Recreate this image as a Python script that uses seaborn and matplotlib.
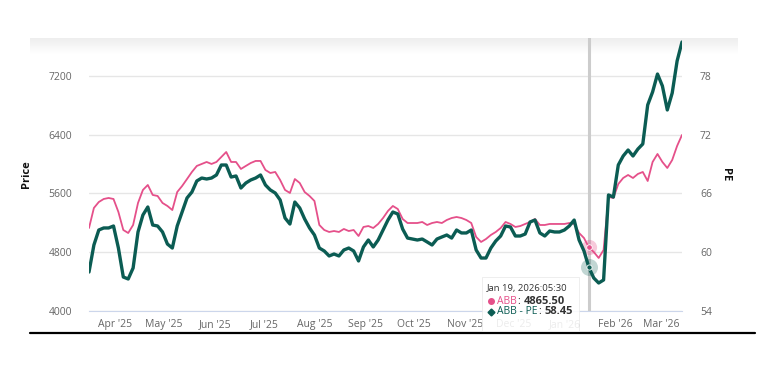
import numpy as np
import pandas as pd
import matplotlib
matplotlib.use("Agg")
import matplotlib.pyplot as plt
import matplotlib.dates as mdates
from matplotlib.lines import Line2D
from matplotlib.patches import Rectangle
import seaborn as sns

dates = pd.date_range("2025-03-16", periods=122, freq="3D")

price = [5130, 5403, 5484, 5525, 5539, 5525, 5348, 5103, 5062, 5171,
         5471, 5648, 5716, 5580, 5566, 5471, 5430, 5375, 5620, 5702,
         5797, 5893, 5975, 6002, 6029, 6002, 6029, 6097, 6165, 6029,
         6029, 5934, 5975, 6015, 6043, 6043, 5920, 5879, 5893, 5784,
         5648, 5607, 5797, 5743, 5620, 5566, 5498, 5171, 5103, 5076,
         5089, 5076, 5117, 5089, 5103, 5021, 5144, 5157, 5130, 5185,
         5266, 5362, 5430, 5389, 5253, 5198, 5198, 5198, 5212, 5171,
         5198, 5212, 5198, 5239, 5266, 5280, 5266, 5239, 5198, 5008,
         4940, 4980, 5035, 5076, 5130, 5212, 5185, 5144, 5157, 5185,
         5212, 5253, 5171, 5171, 5185, 5185, 5185, 5185, 5198, 5185,
         5062, 4994, 4865.5, 4803, 4722, 4831, 5552, 5539, 5729, 5811,
         5852, 5811, 5866, 5893, 5770, 6029, 6138, 6029, 5947, 6056,
         6247, 6397]

pe = [57.98, 60.74, 62.27, 62.48, 62.48, 62.68, 60.43, 57.47, 57.27, 58.39,
      62.07, 63.80, 64.62, 62.78, 62.68, 62.07, 60.84, 60.43, 62.68, 64.11,
      65.54, 66.15, 67.28, 67.58, 67.48, 67.58, 67.89, 68.91, 68.91, 67.68,
      67.79, 66.56, 67.07, 67.38, 67.58, 67.89, 66.87, 66.36, 66.05, 65.34,
      63.50, 62.88, 65.13, 64.52, 63.40, 62.48, 61.76, 60.43, 60.13, 59.62,
      59.82, 59.62, 60.23, 60.43, 60.13, 59.11, 60.54, 61.25, 60.54, 61.25,
      62.27, 63.29, 64.11, 63.91, 62.37, 61.45, 61.35, 61.25, 61.35, 61.05,
      60.74, 61.35, 61.56, 61.76, 61.45, 62.27, 61.97, 61.97, 62.27, 60.23,
      59.41, 59.41, 60.43, 61.15, 61.66, 62.68, 62.58, 61.66, 61.66, 61.86,
      63.09, 63.29, 61.97, 61.66, 62.17, 62.07, 62.07, 62.27, 62.68, 63.29,
      61.25, 60.13, 58.45, 57.37, 56.86, 57.17, 65.85, 65.64, 68.91, 69.83,
      70.44, 69.83, 70.54, 71.06, 75.04, 76.37, 78.20, 76.98, 74.53, 76.26,
      79.53, 81.47]

hover_idx = 102
price_ticks = [4000, 4800, 5600, 6400, 7200]
pe_ticks = [54, 60, 66, 72, 78]

PINK = "#e5508a"
GREEN = "#0b5c53"
W, H = 767, 365

df = pd.DataFrame({"date": dates, "price": price, "pe": pe})

sns.set_style("white")
plt.rcParams["font.family"] = ["Open Sans", "DejaVu Sans"]

fig = plt.figure(figsize=(W / 100, H / 100), dpi=100)

# faint shaded band across the top of the chart
band = fig.add_axes([30 / W, 1 - 54 / H, 708 / W, 16 / H], zorder=0)
band.imshow(np.linspace(0, 1, 50).reshape(-1, 1), aspect="auto",
            cmap=matplotlib.colors.LinearSegmentedColormap.from_list("g", ["#eeeeee", "#ffffff"]))
band.axis("off")

ax = fig.add_axes([89 / W, 1 - 311 / H, 593 / W, 273 / H], zorder=2)
ax.set_facecolor("none")
ax2 = ax.twinx()

sns.lineplot(data=df, x="date", y="price", ax=ax, color=PINK, linewidth=1.3, zorder=3)
sns.lineplot(data=df, x="date", y="pe", ax=ax2, color=GREEN, linewidth=2.4, zorder=3)

ax.set_xlim(dates[0], dates[-1])
ax.set_ylim(4000, 7717)
ax2.set_ylim(54, 81.88)
ax.set_yticks(price_ticks)
ax2.set_yticks(pe_ticks)
ax.yaxis.grid(True, color="#e6e6e6", linewidth=1)
ax.set_axisbelow(True)

for a in (ax, ax2):
    for s in a.spines.values():
        s.set_visible(False)
ax.spines["bottom"].set_visible(True)
ax.spines["bottom"].set_color("#ccd6eb")

ax.xaxis.set_major_locator(mdates.MonthLocator())
ax.xaxis.set_major_formatter(mdates.DateFormatter("%b '%y"))
ax.tick_params(axis="x", length=6, width=1, color="#ccd6eb", pad=0,
               labelsize=7.5, labelcolor="#666666", direction="out")
ax.tick_params(axis="y", length=0, pad=12, labelsize=7.5, labelcolor="#666666")
ax2.tick_params(axis="y", length=0, pad=13, labelsize=7.5, labelcolor="#666666")

ax.set_xlabel("")
ax.set_ylabel("Price", fontsize=8, fontweight="bold", color="#111111", labelpad=12)
ax2.set_ylabel("PE", fontsize=8, fontweight="bold", color="#111111", rotation=270, labelpad=14)

# crosshair and hovered points
hx = dates[hover_idx]
ax.axvline(hx, color="#cccccc", linewidth=2.2, zorder=1)
ax.scatter([hx], [price[hover_idx]], s=120, color=PINK, alpha=0.3, linewidths=0, zorder=4)
ax.scatter([hx], [price[hover_idx]], s=16, color=PINK, edgecolors="white", linewidths=0.6, zorder=5)
ax2.scatter([hx], [pe[hover_idx]], s=150, color=GREEN, alpha=0.25, linewidths=0, zorder=4)
ax2.scatter([hx], [pe[hover_idx]], s=14, color=GREEN, edgecolors="white", linewidths=0.6, zorder=5)

# tooltip
fig.patches.append(Rectangle((482 / W, 1 - 331 / H), 97 / W, 54 / H, transform=fig.transFigure,
                             facecolor="white", edgecolor="#e8e8e8", linewidth=0.6, alpha=0.88, zorder=10))
fig.text(487 / W, 1 - 289 / H, "Jan 19, 2026:05:30", fontsize=6.8, color="#333333",
         va="center", zorder=11)

renderer = fig.canvas.get_renderer()


def chain(x_px, y_px, pieces):
    # draw text pieces one after another on the same line
    x = x_px
    for txt, color, weight, size, gap in pieces:
        t = fig.text(x / W, 1 - y_px / H, txt, fontsize=size, color=color,
                     fontweight=weight, va="center", zorder=11)
        x = t.get_window_extent(renderer).x1 + gap


fig.add_artist(Line2D([491 / W], [1 - 301 / H], marker="o", markersize=4, color=PINK, zorder=11))
chain(497, 301, [("ABB", PINK, "normal", 7.5, 1), (":", "#333333", "normal", 7.5, 3),
                 ("4865.50", "#333333", "bold", 8, 0)])
fig.add_artist(Line2D([491 / W], [1 - 312 / H], marker="D", markersize=3.5, color=GREEN, zorder=11))
chain(497, 312, [("ABB - PE", GREEN, "normal", 7.5, 1), (":", "#333333", "normal", 7.5, 3),
                 ("58.45", "#333333", "bold", 8, 0)])

# black rule under the chart
fig.add_artist(Line2D([30 / W, 755 / W], [1 - 333 / H] * 2, color="black", linewidth=1.6))

fig.savefig("out.png", dpi=100)
